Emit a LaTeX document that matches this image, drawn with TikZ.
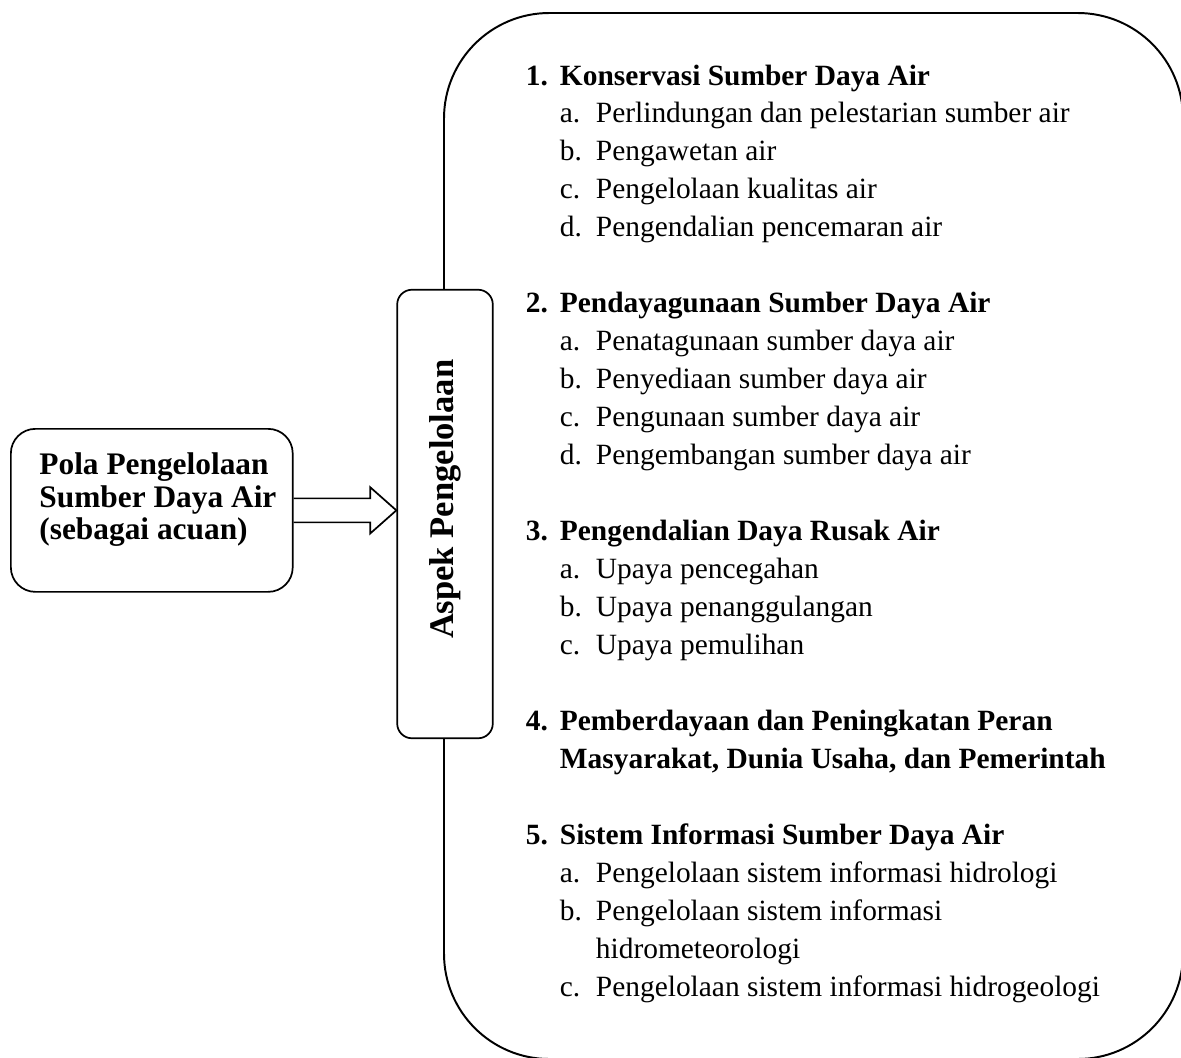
\documentclass[tikz,border=0pt]{standalone}
\usepackage{fontspec}
\setmainfont{Liberation Serif}
\usetikzlibrary{calc}

\tikzset{
  frame/.style={draw, line width=0.7pt, rounded corners=#1},
  frame/.default=10pt
}

\begin{document}
\begin{tikzpicture}[x=0.408pt, y=-0.408pt, line width=0.7pt]
    % Page frame
    \useasboundingbox (0,0) rectangle (1181,1057);

    % Large rounded frame (partly cut off at the right and bottom)
    \begin{scope}
    \clip (0,0) rectangle (1181,1057);
    \draw[line width=0.8pt, rounded corners=43pt] (444,13) rectangle (1183,1059);
    \end{scope}

    % Left box
    \node[frame=10pt, anchor=north west, minimum width=115pt, minimum height=66.5pt,
          inner xsep=0pt, text height=9.3pt, text depth=38.5pt,
          font=\bfseries\fontsize{12.8}{13.3}\selectfont] (pola) at (10,428)
          {\hspace*{5pt}\begin{tabular}[t]{@{}l@{}}Pola Pengelolaan\\Sumber Daya Air\\(sebagai acuan)\end{tabular}};

    % Middle box
    \node[frame=6pt, fill=white, rotate=90, minimum width=183pt, minimum height=39pt,
          font=\bfseries\fontsize{14.1}{16}\selectfont] (aspek) at (445,514)
          {\hspace*{12pt}Aspek Pengelolaan};

    % Block arrow
    \coordinate (tip) at (aspek.north |- pola.east);
    \draw ($(pola.east)+(0,-12)$) -- ($(tip)+(-26,-12)$) -- ($(tip)+(-26,-23)$) -- (tip)
          -- ($(tip)+(-26,23)$) -- ($(tip)+(-26,12)$) -- ($(pola.east)+(0,12)$);

    % List of aspects
    \node[anchor=base west, inner sep=0pt, font=\fontsize{12}{15.5}\selectfont] (daftar) at (525,85) {%
    \renewcommand{\arraystretch}{1}%
    \setlength{\tabcolsep}{0pt}%
    \begin{tabular}[t]{@{}p{13.9pt}p{14.7pt}l@{}}
    \textbf{1.} & \multicolumn{2}{l}{\textbf{Konservasi Sumber Daya Air}}\\
     & a. & Perlindungan dan pelestarian sumber air\\
     & b. & Pengawetan air\\
     & c. & Pengelolaan kualitas air\\
     & d. & Pengendalian pencemaran air\\[15.5pt]
    \textbf{2.} & \multicolumn{2}{l}{\textbf{Pendayagunaan Sumber Daya Air}}\\
     & a. & Penatagunaan sumber daya air\\
     & b. & Penyediaan sumber daya air\\
     & c. & Pengunaan sumber daya air\\
     & d. & Pengembangan sumber daya air\\[15.5pt]
    \textbf{3.} & \multicolumn{2}{l}{\textbf{Pengendalian Daya Rusak Air}}\\
     & a. & Upaya pencegahan\\
     & b. & Upaya penanggulangan\\
     & c. & Upaya pemulihan\\[15.5pt]
    \textbf{4.} & \multicolumn{2}{l}{\textbf{Pemberdayaan dan Peningkatan Peran}}\\
     & \multicolumn{2}{l}{\textbf{Masyarakat, Dunia Usaha, dan Pemerintah}}\\[15.5pt]
    \textbf{5.} & \multicolumn{2}{l}{\textbf{Sistem Informasi Sumber Daya Air}}\\
     & a. & Pengelolaan sistem informasi hidrologi\\
     & b. & Pengelolaan sistem informasi\\
     & & hidrometeorologi\\
     & c. & Pengelolaan sistem informasi hidrogeologi
    \end{tabular}};
\end{tikzpicture}
\end{document}
